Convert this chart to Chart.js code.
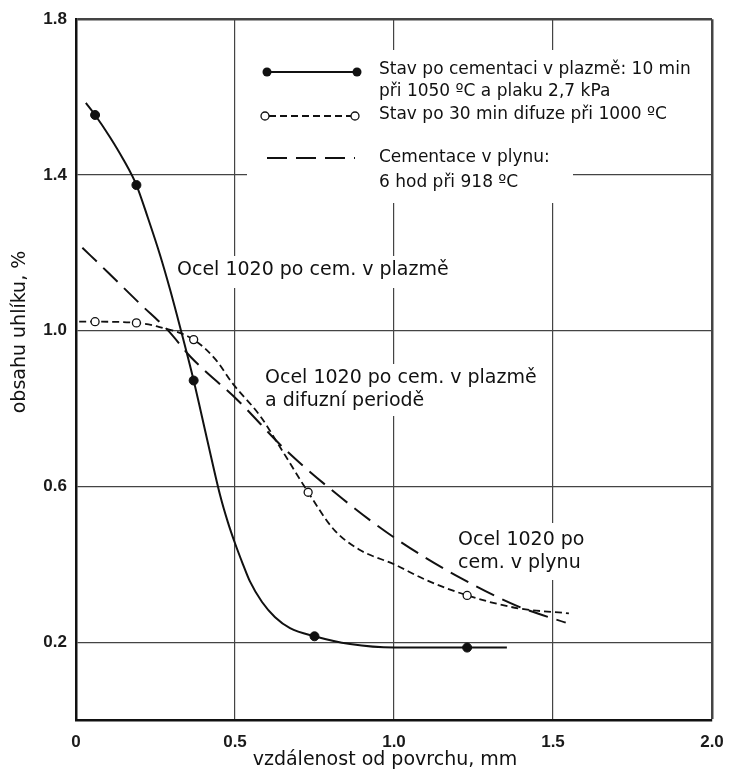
<!DOCTYPE html>
<html><head><meta charset="utf-8">
<script src="https://cdn.jsdelivr.net/npm/chart.js@4.4.1/dist/chart.umd.min.js"></script>
<style>html,body{margin:0;padding:0;background:#fff}</style>
</head><body>
<canvas id="c" width="729" height="776"></canvas>
<script>
// ---- data ----
const plasmaX = [0.031, 0.06, 0.107, 0.148, 0.19, 0.226, 0.264, 0.296, 0.327, 0.37, 0.412, 0.453, 0.478, 0.50, 0.525, 0.547, 0.585, 0.626, 0.673, 0.75, 0.862, 1.00, 1.23, 1.355];
const plasmaY = [1.585, 1.554, 1.497, 1.441, 1.374, 1.29, 1.195, 1.105, 1.01, 0.872, 0.722, 0.578, 0.507, 0.454, 0.400, 0.356, 0.303, 0.264, 0.236, 0.215, 0.195, 0.186, 0.186, 0.186];
const plasmaMarkX = [0.06, 0.19, 0.37, 0.75, 1.23];

const diffX = [0.01, 0.06, 0.19, 0.26, 0.37, 0.44, 0.49, 0.58, 0.64, 0.73, 0.81, 0.89, 1.00, 1.10, 1.23, 1.39, 1.55];
const diffY = [1.023, 1.023, 1.02, 1.01, 0.977, 0.925, 0.867, 0.78, 0.703, 0.585, 0.49, 0.438, 0.40, 0.36, 0.32, 0.287, 0.274];
const diffMarkX = [0.06, 0.19, 0.37, 0.73, 1.23];

const gasX = [0.02, 0.10, 0.20, 0.29, 0.36, 0.51, 0.66, 0.84, 1.00, 1.20, 1.39, 1.54];
const gasY = [1.213, 1.15, 1.07, 1.0, 0.933, 0.82, 0.693, 0.567, 0.469, 0.369, 0.292, 0.25];

const xTicks = [0, 0.5, 1.0, 1.5, 2.0];
const yTicks = [0.2, 0.6, 1.0, 1.4, 1.8];

const xTitle = 'vzdálenost od povrchu, mm';
const yTitle = 'obsahu uhlíku, %';

const legendTexts = [
  ['Stav po cementaci v plazmě: 10 min', 'při 1050 ºC a plaku 2,7 kPa'],
  ['Stav po 30 min difuze při 1000 ºC'],
  ['Cementace v plynu:', '6 hod při 918 ºC']
];
const noteTexts = [
  ['Ocel 1020 po cem. v plazmě'],
  ['Ocel 1020 po cem. v plazmě', 'a difuzní periodě'],
  ['Ocel 1020 po', 'cem. v plynu']
];

// ---- layout / style ----
const INK = '#111';
const GRID = '#444';
const TXT = "'DejaVu Sans', sans-serif";
const TICKFONT = "'Liberation Sans', Arial, sans-serif";
const notePos = [
  {x: 177, y: 270, box: [172, 256, 286, 32]},
  {x: 265, y: 378, box: [260, 364, 286, 52]},
  {x: 458, y: 540, box: [452, 523, 140, 57]}
];
const legendBoxes = [[247, 50, 455, 78], [247, 128, 326, 75]];

const pts = (xs, ys) => xs.map((x, i) => ({x, y: ys[i]}));

const datasets = [
  {
    label: legendTexts[0].join(' '),
    data: pts(plasmaX, plasmaY),
    showLine: true, borderColor: INK, borderWidth: 2, borderDash: [],
    pointRadius: c => plasmaMarkX.includes(c.raw && c.raw.x) ? 4.5 : 0,
    pointBackgroundColor: INK, pointBorderColor: INK, pointBorderWidth: 1,
    cubicInterpolationMode: 'monotone'
  },
  {
    label: legendTexts[1].join(' '),
    data: pts(diffX, diffY),
    showLine: true, borderColor: INK, borderWidth: 1.8, borderDash: [7, 4],
    pointRadius: c => diffMarkX.includes(c.raw && c.raw.x) ? 4 : 0,
    pointBackgroundColor: '#fff', pointBorderColor: INK, pointBorderWidth: 1.3,
    cubicInterpolationMode: 'monotone'
  },
  {
    label: legendTexts[2].join(' '),
    data: pts(gasX, gasY),
    showLine: true, borderColor: INK, borderWidth: 2, borderDash: [20, 9],
    pointRadius: 0,
    cubicInterpolationMode: 'monotone'
  }
];

const overlay = {
  id: 'overlay',
  beforeDatasetsDraw(chart) {
    const ctx = chart.ctx;
    ctx.save();
    ctx.fillStyle = '#fff';
    legendBoxes.forEach(b => ctx.fillRect(b[0], b[1], b[2], b[3]));
    notePos.forEach(p => ctx.fillRect(p.box[0], p.box[1], p.box[2], p.box[3]));
    ctx.restore();
  },
  afterDatasetsDraw(chart) {
    const ctx = chart.ctx;
    ctx.save();
    ctx.fillStyle = INK;
    ctx.textBaseline = 'middle';
    ctx.textAlign = 'left';
    ctx.font = "19px " + TXT;
    noteTexts.forEach((lines, i) => {
      lines.forEach((t, j) => ctx.fillText(t, notePos[i].x, notePos[i].y + j * 23));
    });
    const rows = [72, 116, 158];
    const ds = chart.data.datasets;
    ctx.strokeStyle = INK;
    ctx.lineWidth = 2; ctx.setLineDash([]);
    ctx.beginPath(); ctx.moveTo(267, rows[0]); ctx.lineTo(357, rows[0]); ctx.stroke();
    [267, 357].forEach(x => { ctx.beginPath(); ctx.arc(x, rows[0], 4.5, 0, Math.PI * 2); ctx.fill(); });
    ctx.lineWidth = 1.8; ctx.setLineDash(ds[1].borderDash);
    ctx.beginPath(); ctx.moveTo(269, rows[1]); ctx.lineTo(351, rows[1]); ctx.stroke();
    ctx.setLineDash([]); ctx.lineWidth = 1.3;
    [265, 355].forEach(x => { ctx.beginPath(); ctx.arc(x, rows[1], 4, 0, Math.PI * 2); ctx.fillStyle = '#fff'; ctx.fill(); ctx.stroke(); });
    ctx.fillStyle = INK;
    ctx.lineWidth = 2; ctx.setLineDash(ds[2].borderDash);
    ctx.beginPath(); ctx.moveTo(267, rows[2]); ctx.lineTo(355, rows[2]); ctx.stroke();
    ctx.setLineDash([]);
    ctx.font = "17px " + TXT;
    const textY = [[70, 92], [115], [158, 183]];
    legendTexts.forEach((lines, i) => lines.forEach((t, j) => ctx.fillText(t, 379, textY[i][j])));
    ctx.restore();
  },
  afterDraw(chart) {
    const ctx = chart.ctx;
    ctx.save();
    ctx.fillStyle = INK;
    ctx.textAlign = 'center';
    ctx.textBaseline = 'middle';
    ctx.font = "19px " + TXT;
    ctx.fillText(xTitle, 385, 760);
    ctx.translate(20, 332);
    ctx.rotate(-Math.PI / 2);
    ctx.font = "19px " + TXT;
    ctx.fillText(yTitle, 0, 0);
    ctx.restore();
  }
};

new Chart(document.getElementById('c'), {
  type: 'scatter',
  data: {datasets},
  options: {
    responsive: false,
    animation: false,
    events: [],
    layout: {padding: {left: 0, right: 17, top: 19, bottom: 0}},
    plugins: {legend: {display: false}, tooltip: {enabled: false}, title: {display: false}},
    scales: {
      x: {
        type: 'linear', min: 0, max: 2,
        afterBuildTicks: s => { s.ticks = xTicks.map(v => ({value: v})); },
        afterFit: s => { s.height = 56; s.paddingRight = 12; s.paddingLeft = 0; },
        ticks: {
          callback: v => v === 0 ? '0' : Number(v).toFixed(1),
          font: {family: TICKFONT, size: 17, weight: 'bold'},
          color: '#1a1a1a', padding: 12, maxRotation: 0, autoSkip: false
        },
        grid: {color: GRID, lineWidth: c => (c.tick && c.tick.value === 2) ? 2.5 : 1.2, drawTicks: false},
        border: {display: true, color: INK, width: 2.5}
      },
      y: {
        type: 'linear', min: 0, max: 1.8,
        afterBuildTicks: s => { s.ticks = yTicks.map(v => ({value: v})); },
        afterFit: s => { s.width = 76; },
        ticks: {
          callback: v => Number(v).toFixed(1),
          font: {family: TICKFONT, size: 17, weight: 'bold'},
          color: '#1a1a1a', padding: 9, autoSkip: false
        },
        grid: {color: GRID, lineWidth: c => (c.tick && Math.abs(c.tick.value - 1.8) < 1e-9) ? 2.5 : 1.2, drawTicks: false},
        border: {display: true, color: INK, width: 2.5}
      }
    }
  },
  plugins: [overlay]
});
</script>
</body></html>
